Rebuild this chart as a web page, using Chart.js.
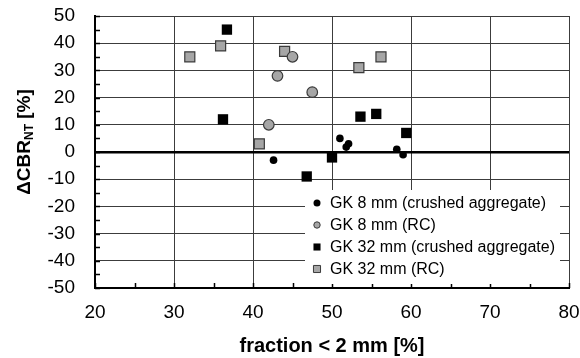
<!DOCTYPE html>
<html>
<head>
<meta charset="utf-8">
<script src="https://cdn.jsdelivr.net/npm/chart.js@4"></script>
<style>
  html, body { margin: 0; padding: 0; background: #fff; }
  canvas { display: block; }
</style>
</head>
<body>
<canvas id="chart" width="580" height="358"></canvas>
<script>
// values
const gk8CrushedX = [42.6, 51.0, 52.1, 51.8, 58.2, 59.0];
const gk8CrushedY = [-3, 5, 3, 1.8, 1, -1];
const gk8RcX = [42.0, 43.1, 45.0, 47.5];
const gk8RcY = [10, 28, 35, 22];
const gk32CrushedX = [36.2, 36.7, 46.8, 50.0, 53.6, 55.6, 59.4];
const gk32CrushedY = [12, 45, -9, -2, 13, 14, 7];
const gk32RcX = [32.0, 35.9, 40.8, 44.0, 53.4, 56.2];
const gk32RcY = [35, 39, 3, 37, 31, 35];

const seriesLabels = [
  "GK 8 mm (crushed aggregate)",
  "GK 8 mm (RC)",
  "GK 32 mm (crushed aggregate)",
  "GK 32 mm (RC)",
];

const xRange = [20, 80];
const yRange = [-50, 50];
const xTitle = "fraction < 2 mm [%]";
const yTitleMain = "\u0394CBR";
const yTitleSub = "NT";
const yTitleEnd = " [%]";

const FONT = "'Liberation Sans', Arial, sans-serif";
const GRAY = "#a6a6a6";
const EDGE = "#3a3a3a";

const pts = (xs, ys) => xs.map((x, i) => ({ x, y: ys[i] }));

const STYLES = [
  { pointStyle: "circle", radius: 3.8, bg: "#000", border: "#000", bw: 0, lr: 3.5 },
  { pointStyle: "circle", radius: 5.3, bg: GRAY, border: EDGE, bw: 1.2, lr: 3.2 },
  { pointStyle: "rect", radius: 7.3, bg: "#000", border: "#000", bw: 0, lr: 5 },
  { pointStyle: "rect", radius: 7.1, bg: GRAY, border: EDGE, bw: 1.2, lr: 5 },
];

const rawData = [
  pts(gk8CrushedX, gk8CrushedY),
  pts(gk8RcX, gk8RcY),
  pts(gk32CrushedX, gk32CrushedY),
  pts(gk32RcX, gk32RcY),
];

const datasets = rawData.map((data, i) => ({
  label: seriesLabels[i],
  data,
  pointStyle: STYLES[i].pointStyle,
  pointRadius: STYLES[i].radius,
  pointBackgroundColor: STYLES[i].bg,
  pointBorderColor: STYLES[i].border,
  pointBorderWidth: STYLES[i].bw,
}));

function noPad(s) {
  s.paddingLeft = 0;
  s.paddingRight = 0;
  s.paddingTop = 0;
  s.paddingBottom = 0;
}

// inward minor ticks every 5 units on left and bottom axes
const minorTicks = {
  id: "minorTicks",
  afterDatasetsDraw(chart) {
    const { ctx, chartArea: a, scales: { x, y } } = chart;
    ctx.save();
    ctx.strokeStyle = "#000";
    ctx.lineWidth = 1.5;
    ctx.beginPath();
    for (let v = yRange[0]; v <= yRange[1]; v += 5) {
      const py = Math.round(y.getPixelForValue(v)) + 0.5;
      ctx.moveTo(a.left, py);
      ctx.lineTo(a.left + 5, py);
    }
    for (let v = xRange[0]; v <= xRange[1]; v += 5) {
      const px = Math.round(x.getPixelForValue(v)) + 0.5;
      ctx.moveTo(px, a.bottom);
      ctx.lineTo(px, a.bottom - 5);
    }
    ctx.stroke();
    ctx.restore();
  },
};

// legend box inside the plot, lower right
const innerLegend = {
  id: "innerLegend",
  afterDatasetsDraw(chart) {
    const { ctx } = chart;
    const box = { x: 305, y: 190, w: 255, h: 94 };
    ctx.save();
    ctx.fillStyle = "#fff";
    ctx.fillRect(box.x, box.y, box.w, box.h);
    ctx.font = "16px " + FONT;
    ctx.textBaseline = "middle";
    ctx.textAlign = "left";
    seriesLabels.forEach((label, i) => {
      const cy = 203 + i * 22;
      const s = STYLES[i];
      ctx.fillStyle = s.bg;
      ctx.strokeStyle = s.border;
      ctx.lineWidth = s.bw ? 1 : 0;
      ctx.beginPath();
      if (s.pointStyle === "circle") {
        ctx.arc(317, cy, s.lr, 0, Math.PI * 2);
      } else {
        const h = s.lr * Math.SQRT1_2;
        ctx.rect(317 - h, cy - h, 2 * h, 2 * h);
      }
      ctx.fill();
      if (s.bw) ctx.stroke();
      ctx.fillStyle = "#000";
      ctx.fillText(label, 330, cy + 1);
    });
    ctx.restore();
  },
};

// rotated y title with subscript
const yTitle = {
  id: "yTitle",
  afterDraw(chart) {
    const { ctx } = chart;
    const big = "bold 19px " + FONT;
    const small = "bold 12px " + FONT;
    ctx.save();
    ctx.font = big;
    const w1 = ctx.measureText(yTitleMain).width;
    const w3 = ctx.measureText(yTitleEnd).width;
    ctx.font = small;
    const w2 = ctx.measureText(yTitleSub).width;
    const total = w1 + w2 + w3;
    ctx.translate(25, 142);
    ctx.rotate(-Math.PI / 2);
    ctx.fillStyle = "#000";
    ctx.textBaseline = "middle";
    ctx.textAlign = "left";
    let cx = -total / 2;
    ctx.font = big;
    ctx.fillText(yTitleMain, cx, 0);
    cx += w1;
    ctx.font = small;
    ctx.fillText(yTitleSub, cx, 5);
    cx += w2;
    ctx.font = big;
    ctx.fillText(yTitleEnd, cx, 0);
    ctx.restore();
  },
};

new Chart(document.getElementById("chart"), {
  type: "scatter",
  data: { datasets },
  options: {
    responsive: false,
    animation: false,
    devicePixelRatio: 1,
    layout: { padding: { top: 16, right: 11, left: 0, bottom: 0 } },
    plugins: {
      legend: { display: false },
      tooltip: { enabled: false },
    },
    scales: {
      x: {
        type: "linear",
        min: xRange[0],
        max: xRange[1],
        afterFit: s => { s.height = 70; noPad(s); },
        ticks: {
          stepSize: 10,
          autoSkip: false,
          maxRotation: 0,
          padding: 13,
          color: "#000",
          font: { family: FONT, size: 19 },
        },
        grid: { color: "#3c3c3c", lineWidth: 1, drawTicks: false },
        border: { display: true, color: "#000", width: 2 },
        title: {
          display: true,
          text: xTitle,
          color: "#000",
          padding: { top: 0, bottom: 0 },
          font: { family: FONT, size: 20, weight: "bold" },
        },
      },
      y: {
        type: "linear",
        min: yRange[0],
        max: yRange[1],
        afterFit: s => { s.width = 95; noPad(s); },
        ticks: {
          stepSize: 10,
          autoSkip: false,
          padding: 20,
          color: "#000",
          font: { family: FONT, size: 19 },
        },
        grid: {
          drawTicks: false,
          color: c => (c.tick && c.tick.value === 0 ? "#000" : "#3c3c3c"),
          lineWidth: c => (c.tick && c.tick.value === 0 ? 2.5 : 1),
        },
        border: { display: true, color: "#000", width: 2 },
      },
    },
  },
  plugins: [minorTicks, innerLegend, yTitle],
});
</script>
</body>
</html>
